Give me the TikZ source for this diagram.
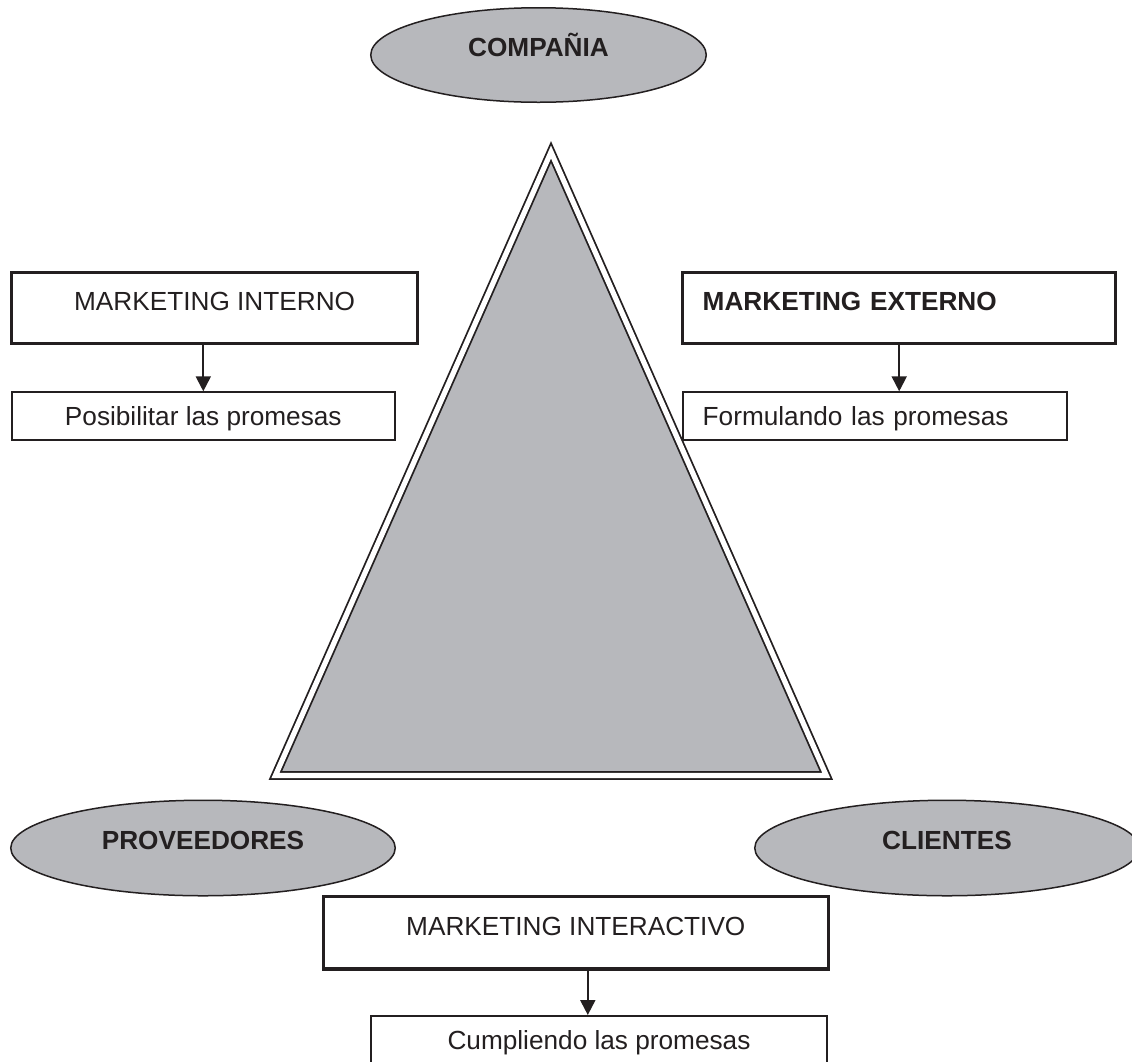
\documentclass[tikz,border=0pt]{standalone}
\usepackage{fontspec}
\setmainfont{Liberation Sans}
\usetikzlibrary{shapes.geometric,arrows.meta}

\definecolor{ink}{RGB}{35,31,32}
\definecolor{shade}{RGB}{183,184,188}
\newcommand\labelsize{\fontsize{26.2}{30}\selectfont}

\begin{document}
\begin{tikzpicture}[x=1pt,y=-1pt,color=ink,font=\labelsize,
    party/.style={ellipse,fill=shade,draw,line width=1.5pt,text height=18.8pt,text depth=16.6pt,font=\labelsize\bfseries},
    headbox/.style={rectangle,draw,line width=3.4pt,text height=18.8pt,text depth=14pt},
    promisebox/.style={rectangle,draw,line width=2pt,text height=18.8pt,text depth=0pt,minimum height=47.4pt},
    arr/.style={-{Triangle[length=15pt,width=15pt]},line width=2pt}]
      \useasboundingbox (0,0) rectangle (1132,1061);
      % the triangle
      \filldraw[fill=shade,double=white,double distance=5.2pt,line width=1.8pt,line join=miter]
        (551,152) -- (275.4,775.5) -- (826.3,775.5) -- cycle;
      \draw
        (538.5,55) node[party,minimum width=335.5pt,minimum height=94.5pt] (compania){COMPAÑIA}
        (203,848) node[party,minimum width=384.5pt,minimum height=95.5pt] (proveedores){PROVEEDORES}
        (947,848) node[party,minimum width=384.5pt,minimum height=95.5pt] (clientes){CLIENTES}
        (214.6,307.8) node[headbox,minimum width=405.8pt,minimum height=71pt] (interno){MARKETING INTERNO}
        (203.3,416) node[promisebox,minimum width=383.3pt] (posibilitar){Posibilitar las promesas}
        (899.2,307.8) node[headbox,minimum height=71pt,text width=393pt,inner xsep=20pt,align=left,font=\labelsize\bfseries] (externo){MARKETING EXTERNO}
        (875,416) node[promisebox,text width=344.6pt,inner xsep=20pt,align=left] (formulando){Formulando las promesas}
        (575.8,932.7) node[headbox,minimum width=505pt,minimum height=72.7pt] (interactivo){MARKETING INTERACTIVO}
        (599,1039.7) node[promisebox,minimum width=456.3pt] (cumpliendo){Cumpliendo las promesas};
      \path ([xshift=12pt]interactivo.south) coordinate (ia);
      \begin{scope}[arr]
        \draw (posibilitar.north |- interno.south) -- (posibilitar.north);
        \draw (externo.south) -- (externo.south |- formulando.north);
        \draw (ia) -- (ia |- cumpliendo.north);
      \end{scope}
    \end{tikzpicture}
\end{document}
